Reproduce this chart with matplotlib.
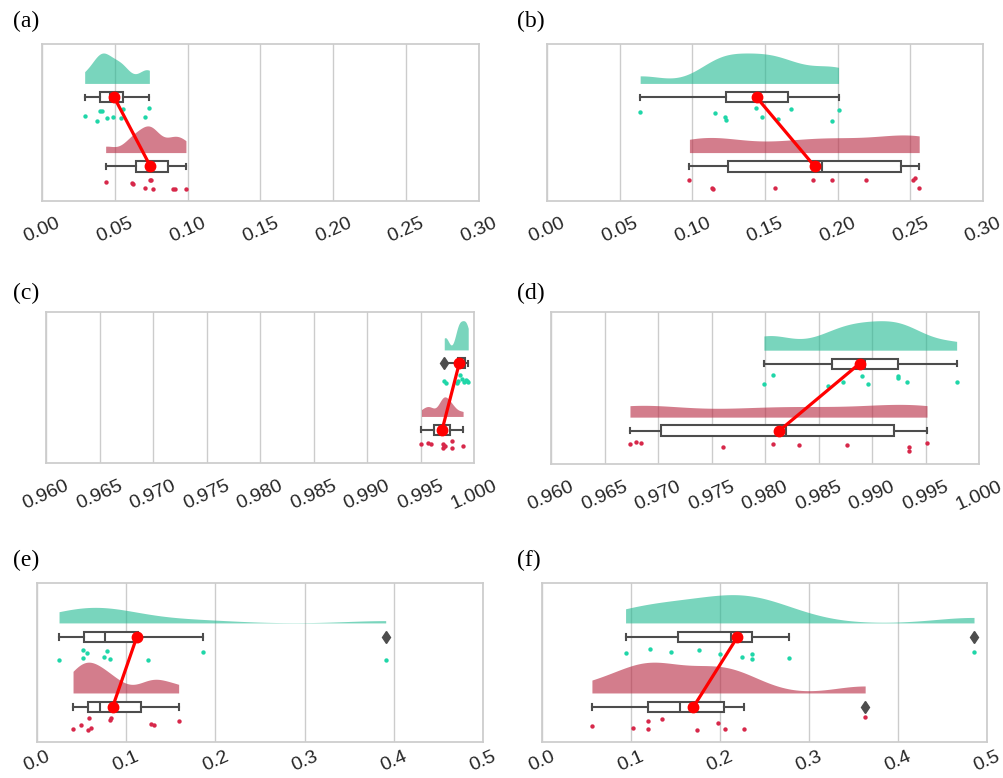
import matplotlib
matplotlib.use("Agg")
import matplotlib.pyplot as plt
import numpy as np

# values ("rain") of every panel, top group (green) and bottom group (red)
a_green = [0.0293, 0.0378, 0.0396, 0.0412, 0.0446, 0.0485, 0.0545, 0.0558, 0.0705, 0.0737]
a_red = [0.0437, 0.0621, 0.0623, 0.0708, 0.0742, 0.0749, 0.0763, 0.0900, 0.0914, 0.0988]
b_green = [0.0641, 0.1157, 0.1228, 0.1230, 0.1438, 0.1480, 0.1592, 0.1681, 0.1963, 0.2006]
b_red = [0.0980, 0.1136, 0.1141, 0.1567, 0.1830, 0.1961, 0.2192, 0.2520, 0.2533, 0.2561]
c_green = [0.99722, 0.99742, 0.99845, 0.99850, 0.99870, 0.99885, 0.99905, 0.99925, 0.99935, 0.99946]
c_red = [0.99509, 0.99571, 0.99595, 0.99706, 0.99711, 0.99720, 0.99727, 0.99790, 0.99796, 0.99898]
d_green = [0.97990, 0.98071, 0.98585, 0.98732, 0.98903, 0.98959, 0.99240, 0.99243, 0.99327, 0.99791]
d_red = [0.96738, 0.96794, 0.96841, 0.97604, 0.98078, 0.98321, 0.98769, 0.99346, 0.99349, 0.99514]
e_green = [0.0247, 0.0512, 0.0516, 0.0557, 0.0747, 0.0781, 0.0818, 0.1244, 0.1857, 0.3909]
e_red = [0.0404, 0.0490, 0.0572, 0.0579, 0.0605, 0.0818, 0.0826, 0.1282, 0.1316, 0.1588]
f_green = [0.0939, 0.1212, 0.1447, 0.1769, 0.2001, 0.2248, 0.2358, 0.2362, 0.2771, 0.4854]
f_red = [0.0561, 0.1028, 0.1189, 0.1193, 0.1350, 0.1746, 0.1982, 0.2061, 0.2270, 0.3631]

# vertical jitter of the rain dots, as seen in the picture
a_green_jit = [0.27, 0.34, 0.20, 0.20, 0.30, 0.29, 0.30, 0.17, 0.28, 0.16]
a_red_jit = [0.23, 0.24, 0.26, 0.31, 0.20, 0.19, 0.33, 0.33, 0.33, 0.33]
b_green_jit = [0.21, 0.23, 0.28, 0.33, 0.15, 0.29, 0.32, 0.17, 0.35, 0.19]
b_red_jit = [0.20, 0.31, 0.32, 0.31, 0.19, 0.19, 0.20, 0.19, 0.17, 0.31]
c_green_jit = [0.27, 0.29, 0.30, 0.27, 0.17, 0.23, 0.28, 0.25, 0.27, 0.28]
c_red_jit = [0.21, 0.20, 0.22, 0.22, 0.27, 0.25, 0.24, 0.17, 0.28, 0.25]
d_green_jit = [0.30, 0.17, 0.34, 0.28, 0.18, 0.31, 0.21, 0.18, 0.27, 0.28]
d_red_jit = [0.20, 0.17, 0.18, 0.24, 0.20, 0.21, 0.22, 0.30, 0.25, 0.19]
e_green_jit = [0.33, 0.18, 0.30, 0.23, 0.28, 0.20, 0.31, 0.33, 0.21, 0.33]
e_red_jit = [0.32, 0.26, 0.33, 0.16, 0.30, 0.18, 0.16, 0.24, 0.26, 0.20]
f_green_jit = [0.23, 0.17, 0.22, 0.19, 0.25, 0.28, 0.24, 0.31, 0.30, 0.22]
f_red_jit = [0.27, 0.30, 0.20, 0.32, 0.17, 0.33, 0.23, 0.32, 0.32, 0.15]

panel_labels = ["(a)", "(b)", "(c)", "(d)", "(e)", "(f)"]
ticks_ab = [0.00, 0.05, 0.10, 0.15, 0.20, 0.25, 0.30]
ticks_cd = [0.960, 0.965, 0.970, 0.975, 0.980, 0.985, 0.990, 0.995, 1.000]
ticks_ef = [0.0, 0.1, 0.2, 0.3, 0.4, 0.5]

GREEN_CLOUD = "#20b991"
RED_CLOUD = "#b7263f"
GREEN_DOT = "#1fd6a8"
RED_DOT = "#d7284a"
BOX_C = "#4d4d4d"
GRID_C = "#cccccc"
BW_FACTOR = 0.4

# axes boxes in pixels: left, top, right, bottom
AX_PX = [
    (42, 44, 479, 201), (547, 44, 983, 201),
    (46, 312, 474, 463), (551, 312, 979, 464),
    (37, 583, 483, 742), (542, 583, 987, 742),
]
LABEL_PX = [(13, 21), (517, 21), (13, 293), (517, 293), (13, 560), (517, 560)]
W, H = 1004, 778


def kde_curve(vals, n=100):
    v = np.asarray(vals)
    bw = v.std(ddof=1) * BW_FACTOR
    xs = np.linspace(v.min(), v.max(), n)
    dens = np.exp(-0.5 * ((xs[:, None] - v[None, :]) / bw) ** 2).sum(1)
    dens /= len(v) * bw * np.sqrt(2 * np.pi)
    return xs, dens


def raincloud(ax, green, red, green_jit, red_jit):
    groups = [(green, green_jit, GREEN_CLOUD, GREEN_DOT, 0),
              (red, red_jit, RED_CLOUD, RED_DOT, 1)]
    curves = [kde_curve(g[0]) for g in groups]
    scale = 0.44 / max(d.max() for _, d in curves)

    for (vals, jit, cc, dc, pos), (xs, dens) in zip(groups, curves):
        base = pos - 0.2
        ax.fill_between(xs, base, base - dens * scale, color=cc, alpha=0.6,
                        lw=0, zorder=1)
        ax.scatter(vals, np.array(jit) + pos, s=10, color=dc, lw=0, zorder=2)

    ax.boxplot([green, red], positions=[0, 1], widths=0.15,
               orientation="horizontal", patch_artist=True, manage_ticks=False,
               boxprops=dict(facecolor="white", edgecolor=BOX_C, linewidth=1.5),
               whiskerprops=dict(color=BOX_C, linewidth=1.5),
               capprops=dict(color=BOX_C, linewidth=1.5),
               medianprops=dict(color=BOX_C, linewidth=1.5),
               flierprops=dict(marker="d", markerfacecolor=BOX_C,
                               markeredgecolor=BOX_C, markersize=6),
               zorder=3)

    means = [np.mean(green), np.mean(red)]
    ax.plot(means, [0, 1], "-o", color="red", lw=2.3, markersize=7.5, zorder=5)


def style_axis(ax, ticks, fmt, pad):
    ax.set_xlim(ticks[0], ticks[-1])
    ax.set_ylim(1.5, -0.77)
    ax.set_yticks([])
    ax.set_xticks(ticks)
    ax.set_xticklabels([fmt.format(t) for t in ticks], rotation=24,
                       fontsize=14, color="#262626", family="Liberation Sans")
    ax.tick_params(axis="x", length=0, pad=pad)
    ax.grid(axis="x", color=GRID_C, lw=1)
    ax.set_axisbelow(True)
    for sp in ax.spines.values():
        sp.set_color(GRID_C)
        sp.set_linewidth(1.25)


fig = plt.figure(figsize=(W / 100, H / 100), dpi=100)
fig.patch.set_facecolor("white")

data = [
    (a_green, a_red, a_green_jit, a_red_jit, ticks_ab, "{:.2f}"),
    (b_green, b_red, b_green_jit, b_red_jit, ticks_ab, "{:.2f}"),
    (c_green, c_red, c_green_jit, c_red_jit, ticks_cd, "{:.3f}"),
    (d_green, d_red, d_green_jit, d_red_jit, ticks_cd, "{:.3f}"),
    (e_green, e_red, e_green_jit, e_red_jit, ticks_ef, "{:.1f}"),
    (f_green, f_red, f_green_jit, f_red_jit, ticks_ef, "{:.1f}"),
]

for i, (g, r, gj, rj, ticks, fmt) in enumerate(data):
    l, t, rr, b = AX_PX[i]
    ax = fig.add_axes([l / W, 1 - b / H, (rr - l) / W, (b - t) / H])
    raincloud(ax, g, r, gj, rj)
    style_axis(ax, ticks, fmt, pad=10 if i < 4 else 4.5)
    lx, ly = LABEL_PX[i]
    fig.text(lx / W, 1 - ly / H, panel_labels[i], fontsize=17,
             family="Liberation Serif", va="center", ha="left", color="black")

fig.savefig("out.png", dpi=100)
